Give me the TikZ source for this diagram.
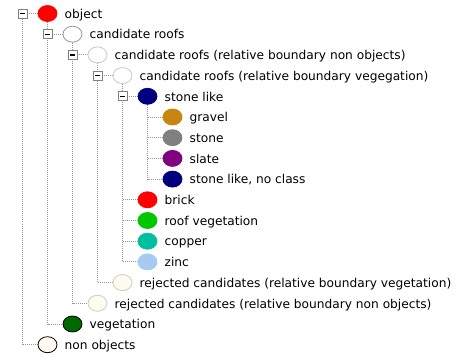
\documentclass[tikz,border=0pt]{standalone}
\usepackage{fontspec}
\setmainfont{DejaVu Sans}
\usetikzlibrary{shapes.geometric,backgrounds}
\definecolor{linegray}{RGB}{150,150,150}
\definecolor{boxgray}{RGB}{128,128,128}
\definecolor{ringdark}{RGB}{150,150,150}
\definecolor{ringlight}{RGB}{200,200,200}
\definecolor{ringcream}{RGB}{205,205,190}
\definecolor{cream}{RGB}{255,251,240}
\definecolor{cred}{RGB}{255,0,0}
\definecolor{cnavy}{RGB}{0,0,128}
\definecolor{cgravel}{RGB}{200,134,16}
\definecolor{cstone}{RGB}{128,128,128}
\definecolor{cslate}{RGB}{128,0,128}
\definecolor{croofveg}{RGB}{0,200,0}
\definecolor{ccopper}{RGB}{0,190,160}
\definecolor{czinc}{RGB}{166,202,240}
\definecolor{cveg}{RGB}{0,104,0}
\tikzset{
  treeline/.style={draw=linegray, line width=0.8pt, dash pattern=on 1pt off 1pt},
  ell/.style={ellipse, minimum width=19pt, minimum height=16pt, inner sep=0pt, line width=0.8pt},
  solid ell/.style={ell, fill=#1, draw=#1},
  expbox/.style={draw=boxgray, fill=white, minimum size=9pt, inner sep=0pt, line width=0.8pt,
    path picture={\draw[black, line width=1.3pt] ([xshift=-2.6pt]path picture bounding box.center) -- ([xshift=2.6pt]path picture bounding box.center);}},
  lbl/.style={anchor=base west, inner sep=0pt, font=\fontsize{12.2}{14}\selectfont},
}
\begin{document}
\begin{tikzpicture}[x=1pt, y=-1pt]
\useasboundingbox (0,0) rectangle (458,358);
% ellipses
\node[solid ell=cred] (e0) at (47.5,13.5) {};
\node[ell, fill=white, draw=ringdark] (e1) at (72.5,34.2) {};
\node[ell, fill=white, draw=ringlight] (e2) at (97.5,54.9) {};
\node[ell, fill=white, draw=ringlight] (e3) at (122.5,75.6) {};
\node[solid ell=cnavy] (e4) at (147.5,96.3) {};
\node[solid ell=cgravel] (e5) at (172.5,117.0) {};
\node[solid ell=cstone] (e6) at (172.5,137.7) {};
\node[solid ell=cslate] (e7) at (172.5,158.4) {};
\node[solid ell=cnavy] (e8) at (172.5,179.1) {};
\node[solid ell=cred] (e9) at (147.5,199.8) {};
\node[solid ell=croofveg] (e10) at (147.5,220.5) {};
\node[solid ell=ccopper] (e11) at (147.5,241.2) {};
\node[solid ell=czinc] (e12) at (147.5,261.9) {};
\node[ell, fill=cream, draw=ringcream] (e13) at (122.5,282.6) {};
\node[ell, fill=cream, draw=ringcream] (e14) at (97.5,303.3) {};
\node[ell, fill=cveg, draw=black] (e15) at (72.5,324.0) {};
\node[ell, fill=cream, draw=black] (e16) at (47.5,344.7) {};
% expand boxes
\node[expbox] (b0) at (22.5,13.5) {};
\node[expbox] (b1) at (47.5,34.2) {};
\node[expbox] (b2) at (72.5,54.9) {};
\node[expbox] (b3) at (97.5,75.6) {};
\node[expbox] (b4) at (122.5,96.3) {};
% tree lines
\begin{pgfonlayer}{background}
\fill[white] (0,0) rectangle (458,358);
\draw[treeline] (b0.center) -- (b0.center |- e16) -- (e16.west);
\draw[treeline] (b0.center) -- (e0.west);
\draw[treeline] (e0.south) -- (e0.south |- e15) -- (e15.west);
\draw[treeline] (b1.center) -- (e1.west);
\draw[treeline] (e1.south) -- (e1.south |- e14) -- (e14.west);
\draw[treeline] (b2.center) -- (e2.west);
\draw[treeline] (e2.south) -- (e2.south |- e13) -- (e13.west);
\draw[treeline] (b3.center) -- (e3.west);
\draw[treeline] (e3.south) -- (e3.south |- e12) -- (e12.west);
\draw[treeline] (e3.south |- e9) -- (e9.west);
\draw[treeline] (e3.south |- e10) -- (e10.west);
\draw[treeline] (e3.south |- e11) -- (e11.west);
\draw[treeline] (b4.center) -- (e4.west);
\draw[treeline] (e4.south) -- (e4.south |- e8) -- (e8.west);
\draw[treeline] (e4.south |- e5) -- (e5.west);
\draw[treeline] (e4.south |- e6) -- (e6.west);
\draw[treeline] (e4.south |- e7) -- (e7.west);
\end{pgfonlayer}
% labels
\node[lbl] (t0) at ([xshift=17pt, yshift=-4.8pt]e0.center) {object};
\node[lbl] (t1) at ([xshift=17pt, yshift=-4.8pt]e1.center) {candidate roofs};
\node[lbl] (t2) at ([xshift=17pt, yshift=-4.8pt]e2.center) {candidate roofs (relative boundary non objects)};
\node[lbl] (t3) at ([xshift=17pt, yshift=-4.8pt]e3.center) {candidate roofs (relative boundary vegegation)};
\node[lbl] (t4) at ([xshift=17pt, yshift=-4.8pt]e4.center) {stone like};
\node[lbl] (t5) at ([xshift=17pt, yshift=-4.8pt]e5.center) {gravel};
\node[lbl] (t6) at ([xshift=17pt, yshift=-4.8pt]e6.center) {stone};
\node[lbl] (t7) at ([xshift=17pt, yshift=-4.8pt]e7.center) {slate};
\node[lbl] (t8) at ([xshift=17pt, yshift=-4.8pt]e8.center) {stone like, no class};
\node[lbl] (t9) at ([xshift=17pt, yshift=-4.8pt]e9.center) {brick};
\node[lbl] (t10) at ([xshift=17pt, yshift=-4.8pt]e10.center) {roof vegetation};
\node[lbl] (t11) at ([xshift=17pt, yshift=-4.8pt]e11.center) {copper};
\node[lbl] (t12) at ([xshift=17pt, yshift=-4.8pt]e12.center) {zinc};
\node[lbl] (t13) at ([xshift=17pt, yshift=-4.8pt]e13.center) {rejected candidates (relative boundary vegetation)};
\node[lbl] (t14) at ([xshift=17pt, yshift=-4.8pt]e14.center) {rejected candidates (relative boundary non objects)};
\node[lbl] (t15) at ([xshift=17pt, yshift=-4.8pt]e15.center) {vegetation};
\node[lbl] (t16) at ([xshift=17pt, yshift=-4.8pt]e16.center) {non objects};
\end{tikzpicture}
\end{document}
